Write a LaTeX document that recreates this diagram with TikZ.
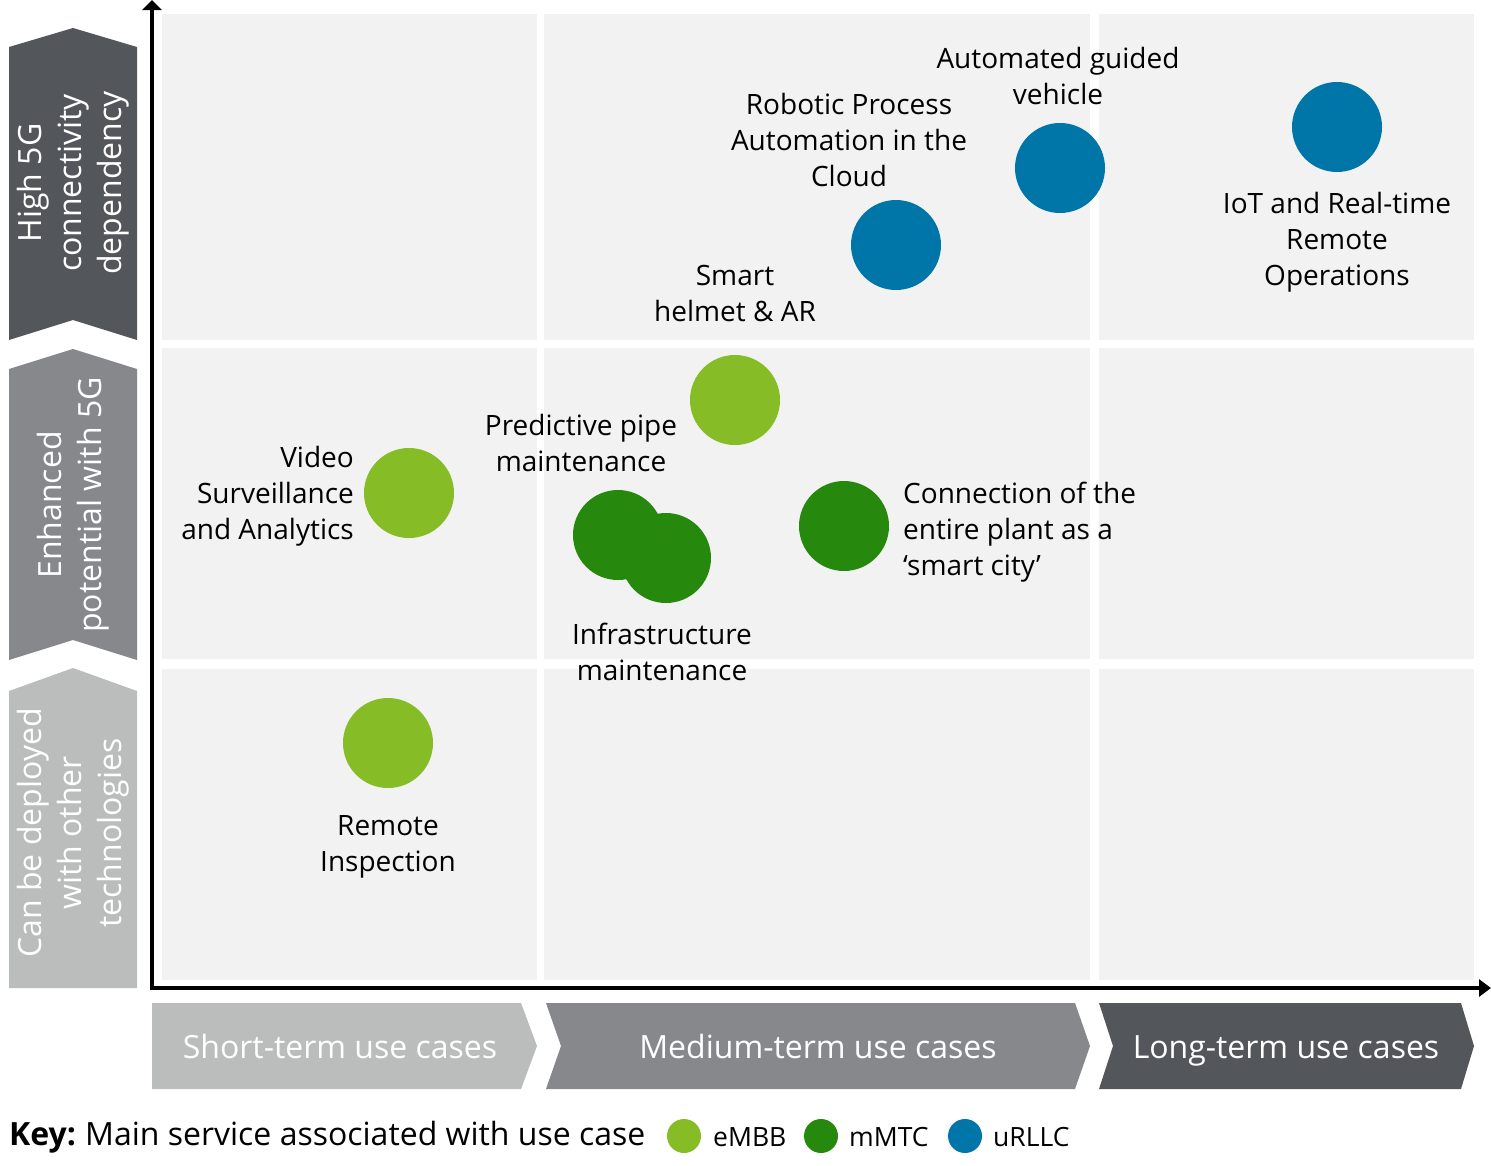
\documentclass[tikz,border=0pt]{standalone}
\usepackage{fontspec}
\setmainfont{Open Sans}
\usetikzlibrary{arrows.meta}
\definecolor{cellgray}{HTML}{F2F2F2}
\definecolor{darkg}{HTML}{53565A}
\definecolor{midg}{HTML}{86888B}
\definecolor{lightg}{HTML}{BBBCBC}
\definecolor{embb}{HTML}{86BC25}
\definecolor{mmtc}{HTML}{26890D}
\definecolor{urllc}{HTML}{0076A8}
\begin{document}
\begin{tikzpicture}[x=1pt,y=-1pt,
  lab/.style={font=\fontsize{28}{36}\selectfont, align=center, inner sep=0pt, text=black},
  sidetxt/.style={font=\fontsize{32}{40}\selectfont, align=center, inner sep=0pt, text=white, rotate=90},
  bottxt/.style={font=\fontsize{32}{36}\selectfont, inner sep=0pt, text=white, anchor=base},
  dot/.style={circle, minimum size=90pt, inner sep=0pt, draw=none},
  keydot/.style={circle, minimum size=34pt, inner sep=0pt, draw=none},
  keytxt/.style={font=\fontsize{26.5}{32}\selectfont, inner sep=0pt, anchor=west},
  axisline/.style={line width=4pt, {Triangle[length=10pt,width=19pt]}-{Triangle[length=12pt,width=17pt]}}
]
\useasboundingbox (0,0) rectangle (1491,1165);
% grid cells
\fill[cellgray] (162,14) rectangle (537,340);
\fill[cellgray] (544,14) rectangle (1090,340);
\fill[cellgray] (1099,14) rectangle (1474,340);
\fill[cellgray] (162,348) rectangle (537,659);
\fill[cellgray] (544,348) rectangle (1090,659);
\fill[cellgray] (1099,348) rectangle (1474,659);
\fill[cellgray] (162,669) rectangle (537,980);
\fill[cellgray] (544,669) rectangle (1090,980);
\fill[cellgray] (1099,669) rectangle (1474,980);
% axes
\coordinate (ytip) at (152,0);
\coordinate (orig) at (152,988);
\coordinate (xtip) at (1491,988);
\draw[axisline, line join=miter] (ytip) -- (orig) -- (xtip);
% left chevrons
\fill[darkg] (9,47) -- (73,28) -- (137,47) -- (137,340) -- (73,320) -- (9,340) -- cycle;
\fill[midg] (9,369) -- (73,349) -- (137,369) -- (137,660) -- (73,640) -- (9,660) -- cycle;
\fill[lightg] (9,691) -- (73,668) -- (137,691) -- (137,988) -- (9,988) -- cycle;
\node[sidetxt] (s1) at (73,183) {High 5G\\connectivity\\dependency};
\node[sidetxt] (s2) at (73,505) {Enhanced\\potential with 5G};
\node[sidetxt] (s3) at (73,833) {Can be deployed\\with other\\technologies};
% bottom chevrons
\fill[lightg] (152,1003) -- (521,1003) -- (537,1046) -- (521,1089) -- (152,1089) -- cycle;
\fill[midg] (546,1003) -- (1075,1003) -- (1090,1046) -- (1075,1089) -- (546,1089) -- (561,1046) -- cycle;
\fill[darkg] (1099,1003) -- (1461,1003) -- (1474,1046) -- (1461,1089) -- (1099,1089) -- (1113,1046) -- cycle;
\node[bottxt] (b1) at (340,1058) {Short-term use cases};
\node[bottxt] (b2) at (818,1058) {Medium-term use cases};
\node[bottxt] (b3) at (1286,1058) {Long-term use cases};
% circles
\node[dot, fill=urllc] (c-rpa) at (896,245) {};
\node[dot, fill=urllc] (c-agv) at (1060,168) {};
\node[dot, fill=urllc] (c-iot) at (1337,127) {};
\node[dot, fill=embb] (c-pred) at (735,400) {};
\node[dot, fill=embb] (c-video) at (409,493) {};
\node[dot, fill=mmtc] (c-infra1) at (618,535) {};
\node[dot, fill=mmtc] (c-infra2) at (666,558) {};
\node[dot, fill=mmtc] (c-conn) at (844,526) {};
\node[dot, fill=embb] (c-remote) at (388,743) {};
% labels
\node[lab] (l-agv) at (1058,76) {Automated guided\\vehicle};
\node[lab] (l-rpa) at (849,140) {Robotic Process\\Automation in the\\Cloud};
\node[lab] (l-smart) at (735,293) {Smart\\helmet \& AR};
\node[lab] (l-iot) at (1337,242) {IoT and Real-time\\Remote\\Operations};
\node[lab] (l-pred) at (581,443) {Predictive pipe\\maintenance};
\node[lab, align=right, anchor=east] (l-video) at (354,496) {Video\\Surveillance\\and Analytics};
\node[lab, align=left, anchor=west] (l-conn) at (903,532) {Connection of the\\entire plant as a\\‘smart city’};
\node[lab] (l-infra) at (662,652) {Infrastructure\\maintenance};
\node[lab] (l-remote) at (388,847) {Remote\\Inspection};
% key
\node[font=\fontsize{32}{36}\selectfont, inner sep=0pt, anchor=west] (key) at (9,1137) {\textbf{Key:}\hspace{-2pt} Main service associated with use case};
\node[keydot, fill=embb] (k1) at (684,1136) {};
\node[keytxt] (k1t) at (713,1137) {eMBB};
\node[keydot, fill=mmtc] (k2) at (821,1136) {};
\node[keytxt] (k2t) at (849,1137) {mMTC};
\node[keydot, fill=urllc] (k3) at (965,1136) {};
\node[keytxt] (k3t) at (993,1137) {uRLLC};
\end{tikzpicture}
\end{document}
